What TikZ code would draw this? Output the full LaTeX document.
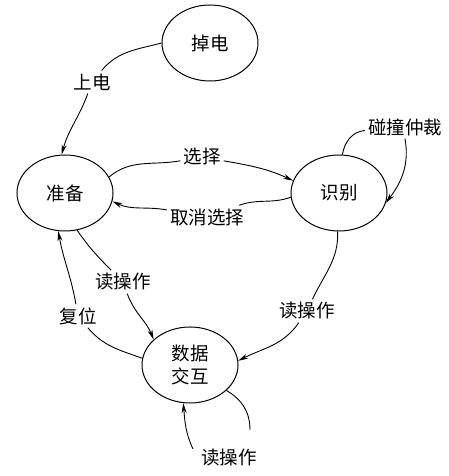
\documentclass[tikz,border=0pt]{standalone}
\usepackage{fontspec}
\setmainfont{Noto Sans CJK SC}
\usetikzlibrary{shapes.geometric,arrows.meta}
\begin{document}
\begin{tikzpicture}[x=1pt,y=1pt,
  font=\fontsize{18.5}{23}\selectfont,
  st/.style={ellipse, draw, line width=1pt, minimum width=96pt, minimum height=76pt, inner sep=0pt, align=center},
  lab/.style={inner sep=3pt},
  ed/.style={line width=0.9pt},
  arr/.style={ed, -{Stealth[length=10pt,width=5pt]}}]
\useasboundingbox[fill=white] (0,0) rectangle (448,476);
% states
\node[st] (dd) at (210,433) {掉电};
\node[st] (zb) at (65,283) {准备};
\node[st] (sb) at (339,283) {识别};
\node[st] (sj) at (190,111) {数据\\交互};
% labels
\node[lab] (l1) at (92,394) {上电};
\node[lab] (l2) at (202,319) {选择};
\node[lab] (l3) at (207,259) {取消选择};
\node[lab] (l4) at (405,349) {碰撞仲裁};
\node[lab] (l5) at (123,194) {读操作};
\node[lab] (l6) at (78,160) {复位};
\node[lab] (l7) at (307,165) {读操作};
\node[lab] (l8) at (229,18) {读操作};
\coordinate (c8a) at (250,46);
\coordinate (c8b) at (193,27);
% edges
\draw[ed] (dd.west) to[out=195,in=50] (l1);
\draw[arr] (l1) to[out=-110,in=75] (zb.95);
\draw[ed] (zb.20) to[out=40,in=190] (l2);
\draw[arr] (l2) to[out=-10,in=155] (sb.165);
\draw[ed] (sb.185) to[out=200,in=20] (l3);
\draw[arr] (l3) to[out=170,in=-25] (zb.-10);
\draw[ed] (sb.85) to[out=80,in=185] (l4);
\draw[arr] (l4.south) to[out=-80,in=53] (sb.-12);
\draw[ed] (zb.-72) to[out=-55,in=135] (l5);
\draw[arr] (l5) to[out=-70,in=112] (sj.145);
\draw[ed] (sj.172) to[out=160,in=-50] (l6);
\draw[arr] (l6) to[out=100,in=-80] (zb.-100);
\draw[ed] (sb.-92) to[out=-88,in=65] (l7);
\draw[arr] (l7) to[out=-125,in=27] (sj.5);
\draw[ed] (sj.-35) to[out=-30,in=90] (c8a);
\draw[arr] (c8b) to[out=115,in=-85] (sj.-100);
\end{tikzpicture}
\end{document}
